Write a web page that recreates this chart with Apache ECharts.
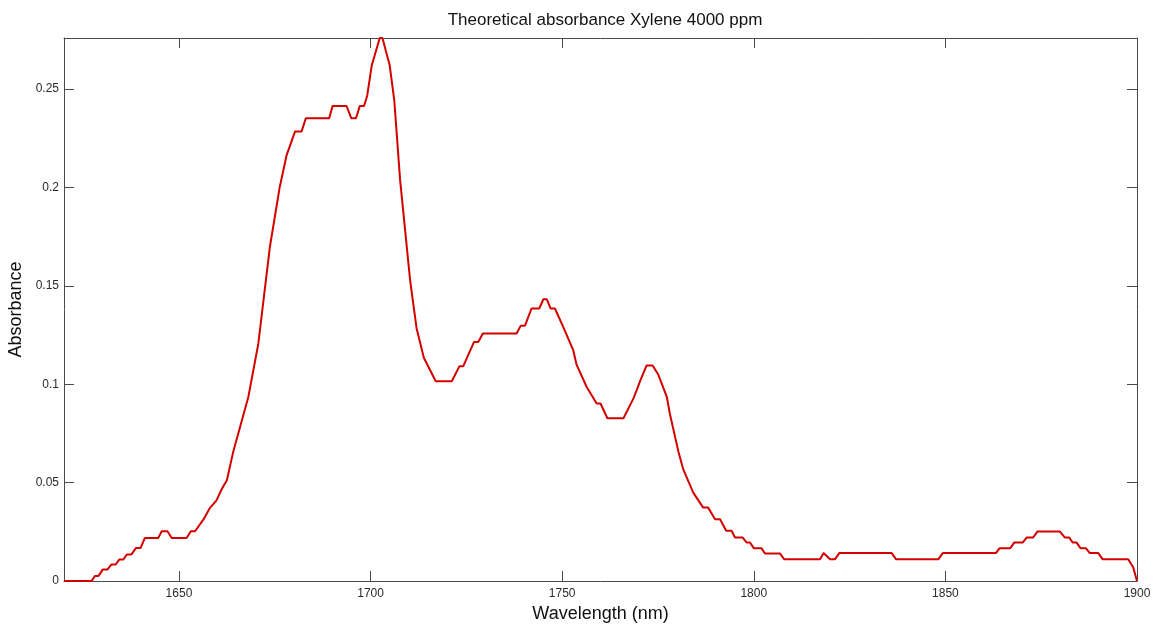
<!DOCTYPE html>
<html>
<head>
<meta charset="utf-8">
<script src="https://cdn.jsdelivr.net/npm/echarts@6/dist/echarts.min.js"></script>
<style>
  html, body { margin: 0; padding: 0; background: #fff; }
  #chart { width: 1157px; height: 628px; }
</style>
</head>
<body>
<div id="chart"></div>
<script>
// Wavelength samples (nm)
const wavelength = [
  1620, 1627.2, 1628.1, 1629.0, 1630.1, 1631.3, 1632.4, 1633.5, 1634.4, 1635.5,
  1636.4, 1637.6, 1638.8, 1640.0, 1641.1, 1644.6, 1645.5, 1647.0, 1648.1, 1652.0,
  1653.1, 1654.2, 1656.4, 1658.1, 1659.8, 1661.1, 1662.5, 1664.2, 1668.1, 1670.7,
  1673.7, 1676.3, 1678.1, 1680.3, 1682.0, 1683.1, 1689.2, 1690.1, 1693.7, 1695.0,
  1696.2, 1697.2, 1698.3, 1699.1, 1700.3, 1702.4, 1703.1, 1705.0, 1706.2, 1707.7,
  1709.0, 1710.3, 1712.0, 1713.9, 1717.0, 1721.2, 1723.2, 1724.2, 1727.0, 1728.1,
  1729.3, 1738.1, 1739.2, 1740.3, 1742.0, 1744.0, 1745.1, 1746.0, 1747.0, 1748.1,
  1750.3, 1752.9, 1753.8, 1756.4, 1759.0, 1760.0, 1761.8, 1766.0, 1768.6, 1769.6,
  1770.3, 1772.0, 1773.6, 1775.1, 1777.3, 1778.1, 1780.3, 1781.6, 1784.2, 1786.8,
  1788.1, 1789.9, 1791.2, 1792.8, 1794.2, 1795.1, 1797.1, 1798.1, 1799.0, 1800.0,
  1802.0, 1802.9, 1806.8, 1807.9, 1817.3, 1818.2, 1818.7, 1819.9, 1821.2, 1822.3,
  1836.0, 1837.1, 1848.2, 1849.3, 1863.2, 1864.1, 1866.9, 1868.0, 1870.2, 1871.2,
  1872.9, 1874.0, 1879.9, 1881.2, 1882.3, 1883.2, 1884.2, 1885.3, 1886.7, 1887.7,
  1889.9, 1891.0, 1897.7, 1899.0, 1900.0
];

// Theoretical absorbance at each wavelength
const absorbance = [
  0, 0, 0.0026, 0.0026, 0.0058, 0.0058, 0.0084, 0.0084, 0.0109, 0.0109,
  0.0135, 0.0135, 0.0168, 0.0168, 0.0219, 0.0219, 0.0253, 0.0253, 0.0219, 0.0219,
  0.0253, 0.0253, 0.0313, 0.0372, 0.0410, 0.0465, 0.0512, 0.0660, 0.0935, 0.1205,
  0.1695, 0.2003, 0.2165, 0.2285, 0.2285, 0.2352, 0.2352, 0.2415, 0.2415, 0.2352,
  0.2352, 0.2415, 0.2415, 0.2465, 0.2620, 0.2760, 0.2760, 0.2620, 0.2440, 0.2040,
  0.1786, 0.1532, 0.1285, 0.1135, 0.1015, 0.1015, 0.1092, 0.1092, 0.1215, 0.1215,
  0.1258, 0.1258, 0.1298, 0.1298, 0.1385, 0.1385, 0.1432, 0.1432, 0.1385, 0.1385,
  0.1290, 0.1172, 0.1097, 0.0986, 0.0902, 0.0902, 0.0827, 0.0827, 0.0928, 0.0978,
  0.1015, 0.1095, 0.1095, 0.1048, 0.0936, 0.0850, 0.0660, 0.0567, 0.0449, 0.0373,
  0.0373, 0.0314, 0.0314, 0.0255, 0.0255, 0.0221, 0.0221, 0.0196, 0.0196, 0.0167,
  0.0167, 0.0140, 0.0140, 0.0111, 0.0111, 0.0142, 0.0142, 0.0111, 0.0111, 0.0142,
  0.0142, 0.0111, 0.0111, 0.0142, 0.0142, 0.0166, 0.0166, 0.0196, 0.0196, 0.0221,
  0.0221, 0.0251, 0.0251, 0.0221, 0.0221, 0.0196, 0.0196, 0.0166, 0.0166, 0.0142,
  0.0142, 0.0111, 0.0111, 0.0070, 0
];

// Tick positions
const xTicks = [1650, 1700, 1750, 1800, 1850, 1900];
const yTicks = [0, 0.05, 0.1, 0.15, 0.2, 0.25];

const xRange = [1620, 1900];
const yRange = [0, 0.276];

const points = wavelength.map((w, i) => [w, absorbance[i]]);

const frameColor = '#4a4a4a';
const labelFont = 'Liberation Sans, Arial, sans-serif';

function xAxisDef(position, showLabels) {
  return {
    type: 'value',
    position: position,
    min: xRange[0],
    max: xRange[1],
    axisLine: { show: true, onZero: false, lineStyle: { color: frameColor, width: 1 } },
    axisTick: { show: true, inside: true, length: 10, customValues: xTicks,
                lineStyle: { color: frameColor, width: 1 } },
    axisLabel: { show: showLabels, customValues: xTicks, margin: 7,
                 color: '#2a2a2a', fontSize: 12, fontFamily: labelFont,
                 formatter: v => String(v) },
    splitLine: { show: false }
  };
}

function yAxisDef(position, showLabels) {
  return {
    type: 'value',
    position: position,
    min: yRange[0],
    max: yRange[1],
    axisLine: { show: true, onZero: false, lineStyle: { color: frameColor, width: 1 } },
    axisTick: { show: true, inside: true, length: 10, customValues: yTicks,
                lineStyle: { color: frameColor, width: 1 } },
    axisLabel: { show: showLabels, customValues: yTicks, margin: 5,
                 color: '#2a2a2a', fontSize: 12, fontFamily: labelFont,
                 formatter: v => String(Math.round(v * 100) / 100) },
    splitLine: { show: false }
  };
}

const chart = echarts.init(document.getElementById('chart'), null, { renderer: 'canvas' });

const bottomX = xAxisDef('bottom', true);
bottomX.name = 'Wavelength (nm)';
bottomX.nameLocation = 'middle';
bottomX.nameGap = 24;
bottomX.nameTextStyle = { color: '#111', fontSize: 18, fontFamily: labelFont };

const leftY = yAxisDef('left', true);
leftY.name = 'Absorbance';
leftY.nameLocation = 'middle';
leftY.nameGap = 37;
leftY.nameTextStyle = { color: '#111', fontSize: 18, fontFamily: labelFont };

chart.setOption({
  animation: false,
  backgroundColor: '#ffffff',
  title: {
    text: 'Theoretical absorbance Xylene 4000 ppm',
    left: 600,
    top: 7,
    textAlign: 'center',
    textStyle: { color: '#111', fontSize: 17, fontWeight: 'normal', fontFamily: labelFont }
  },
  grid: { left: 64, right: 20, top: 38, bottom: 47, containLabel: false, outerBoundsMode: 'none' },
  xAxis: [bottomX, xAxisDef('top', false)],
  yAxis: [leftY, yAxisDef('right', false)],
  series: [{
    type: 'line',
    data: points,
    xAxisIndex: 0,
    yAxisIndex: 0,
    showSymbol: false,
    smooth: false,
    clip: true,
    lineStyle: { color: '#d40000', width: 2 }
  }]
});
</script>
</body>
</html>
